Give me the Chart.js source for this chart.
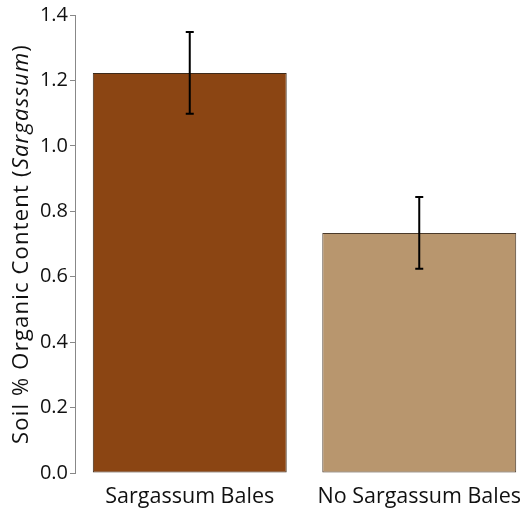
<!DOCTYPE html>
<html>
<head>
<meta charset="utf-8">
<script src="https://cdn.jsdelivr.net/npm/chart.js@4"></script>
<style>
  html, body { margin: 0; padding: 0; background: #fff; overflow: hidden; }
  #wrap { width: 534px; height: 508px; position: relative; }
</style>
</head>
<body>
<div id="wrap"><canvas id="chart"></canvas></div>
<script>
const categories = ['Sargassum Bales', 'No Sargassum Bales'];
const organicContent = [1.223, 0.734];
const errors = [0.125, 0.11];
const barColors = ['#8b4513', '#b8966e'];
const yTicks = [0, 0.2, 0.4, 0.6, 0.8, 1.0, 1.2, 1.4];

const FONT = '"Open Sans", "Liberation Sans", sans-serif';

// error bars drawn over each bar
const errorBarPlugin = {
  id: 'errorBars',
  afterDatasetsDraw(chart) {
    const ctx = chart.ctx;
    const meta = chart.getDatasetMeta(0);
    const y = chart.scales.y;
    ctx.save();
    ctx.strokeStyle = '#000';
    ctx.lineWidth = 2;
    meta.data.forEach((bar, i) => {
      const v = organicContent[i], e = errors[i];
      const top = y.getPixelForValue(v + e);
      const bot = y.getPixelForValue(v - e);
      ctx.beginPath();
      ctx.moveTo(bar.x, top); ctx.lineTo(bar.x, bot);
      ctx.moveTo(bar.x - 4, top); ctx.lineTo(bar.x + 4, top);
      ctx.moveTo(bar.x - 4, bot); ctx.lineTo(bar.x + 4, bot);
      ctx.stroke();
    });
    ctx.restore();
  }
};

// y title with italic part
const yTitlePlugin = {
  id: 'yTitle',
  afterDraw(chart) {
    const ctx = chart.ctx;
    const area = chart.chartArea;
    const parts = [
      ['Soil % Organic Content (', 'normal'],
      ['Sargassum', 'italic'],
      [')', 'normal']
    ];
    ctx.save();
    ctx.fillStyle = '#111';
    ctx.textBaseline = 'middle';
    ctx.letterSpacing = '1.2px';
    let total = 0;
    parts.forEach(p => { ctx.font = `${p[1]} 22px ${FONT}`; total += ctx.measureText(p[0]).width; });
    ctx.translate(22, (area.top + area.bottom) / 2);
    ctx.rotate(-Math.PI / 2);
    let x = -total / 2;
    parts.forEach(p => {
      ctx.font = `${p[1]} 22px ${FONT}`;
      ctx.fillText(p[0], x, 0);
      x += ctx.measureText(p[0]).width;
    });
    ctx.restore();
  }
};

new Chart(document.getElementById('chart'), {
  type: 'bar',
  data: {
    labels: categories,
    datasets: [{
      data: organicContent,
      backgroundColor: barColors,
      borderColor: ['#3d2a1a', '#4a3a2a'],
      borderWidth: 1,
      borderSkipped: false,
      categoryPercentage: 1,
      barPercentage: 0.845
    }]
  },
  options: {
    responsive: true,
    maintainAspectRatio: false,
    animation: false,
    layout: { padding: { top: 15, right: 0, left: 0, bottom: 0 } },
    plugins: { legend: { display: false }, tooltip: { enabled: false } },
    scales: {
      x: {
        grid: { display: false },
        border: { display: false },
        ticks: { color: '#111', font: { family: FONT, size: 21.5 }, padding: 3, maxRotation: 0 },
        afterFit(s) { s.height = 35; }
      },
      y: {
        min: 0,
        max: 1.4,
        afterBuildTicks(s) { s.ticks = yTicks.map(v => ({ value: v })); },
        grid: { drawOnChartArea: false, color: '#888', tickLength: 5 },
        border: { color: '#888', width: 1 },
        ticks: {
          color: '#111',
          font: { family: FONT, size: 20 },
          padding: 2,
          callback: v => v.toFixed(1)
        },
        afterFit(s) { s.width = 75; }
      }
    }
  },
  plugins: [errorBarPlugin, yTitlePlugin]
});
</script>
</body>
</html>
